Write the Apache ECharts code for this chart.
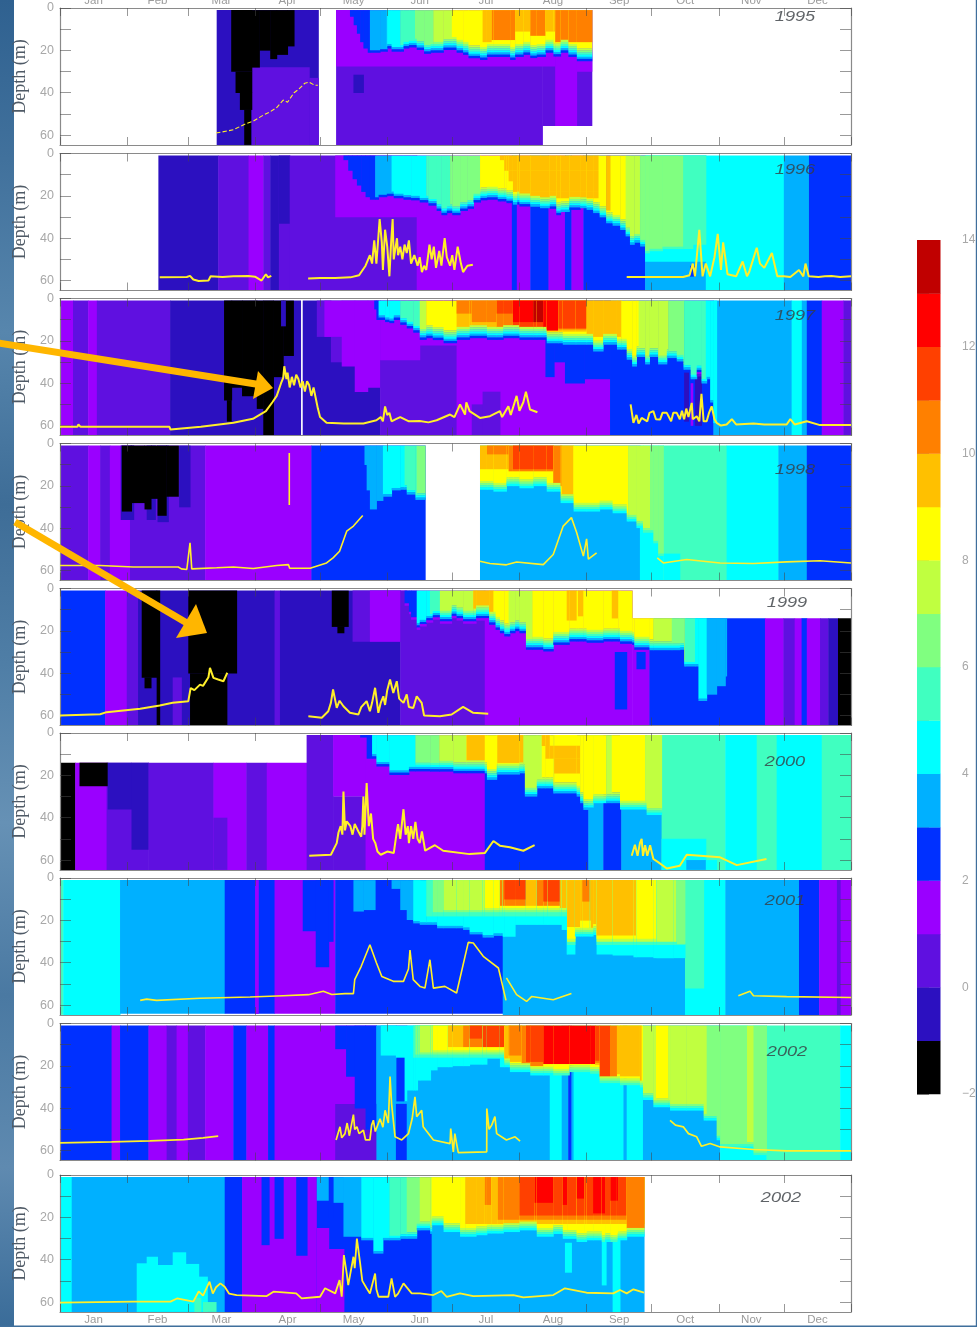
<!DOCTYPE html>
<html><head><meta charset="utf-8">
<style>html,body{margin:0;padding:0;background:#fff}#c{width:977px;height:1327px;filter:blur(0.7px)}</style>
<script src="https://cdn.jsdelivr.net/npm/echarts@6/dist/echarts.min.js"></script>
</head><body><div id="c"></div>
<script>
// cell = [startDay, endDay, topDepth, bottomDepth, temperatureClass]
const months=['Jan','Feb','Mar','Apr','May','Jun','Jul','Aug','Sep','Oct','Nov','Dec'];
const monthStarts=[0,31,59,90,120,151,181,212,243,273,304,334,365];
const monthMids=[15.5,45,74.5,105,135.5,166,196.5,227.5,258,288.5,319,349.5];
const depthTicks=[0,10,20,30,40,50,60];
const depthLabels=[0,20,40,60];
const colourLevels=[-2,-1,0,1,2,3,4,5,6,7,8,9,10,11,12,13];
const colours=['#000000','#2c10c0','#5f10e0','#9a00ff','#0030ff','#00b0ff','#00ffff','#40ffc0','#80ff80','#c0ff40','#ffff00','#ffc000','#ff8000','#ff4000','#ff0000','#c00000'];
const years=['1995','1996','1997','1998','1999','2000','2001','2002','2002'];

const deep1995=[[72.3,119.2,1,64.5,-1],[88.5,115,28,64.5,0],[115,119.2,33,64.5,0],[79,88.5,1,30,-2],[81,88.5,30,40,-2],[83,88.5,40,48,-2],[85,88,48,64.5,-2],[88.5,92,1,28,-2],[92,97,1,20,-2],[97,100,1,24,-2],[100,105,1,22,-2],[105,108,1,18,-2],[127.4,222.6,1,64.5,0],[222.6,245.4,1,55.6,0],[127.4,228.5,1,27.5,1],[228.5,238.4,1,55.6,1],[238.4,245.4,1,30,1],[135.4,140,31.5,40,-1]];
const upper1995=[[133.8,143,1,64,2],[143,150.8,1,64,3],[150.8,157,1,64,4],[157,163.8,1,64,5],[163.8,172.3,1,64,6],[172.3,180.8,1,64,7],[180.8,245.4,1,64,8],[195,199.2,1,16,9],[199.2,210,1,15,10],[210,217,1,11,9],[217,224,1,13,10],[224,228.5,1,11,9],[228.5,245.4,1,16,10]];
const thermo1995=[[133.8,4],[135.5,8],[137,12],[138.5,16],[140,19],[142,21],[143,21],[147.7,20.5],[151,19],[153,20.5],[158.5,19],[161,18.5],[164.6,19.7],[168,21.5],[171,21],[176.9,19.7],[183,21],[186,22],[188.5,23.6],[193.8,24.4],[197,23],[200,23],[207.7,24.4],[210,23],[213.8,22],[217,23.5],[220,23],[224,21],[227.7,22.8],[231,21],[234.6,23],[238.5,25],[245.4,25]];
const line1995=[[72,59],[75,58.5],[80,57.5],[85,55],[89,53.5],[94,50.5],[97,49],[100,47],[103,43.5],[105,44.5],[108,40],[110,38.5],[113,35.5],[115,35],[117.5,36.5],[119,36.5]];

const deep1996=[[45.4,73,1,64.5,-1],[73,87,1,64.5,0],[87,93.8,1,64.5,1],[93.8,97,1,64.5,0],[97,101,1,64.5,-1],[101,106,1,64.5,0],[101,106,1,33,-1],[106,164.6,1,64.5,0],[127,164.6,1,30,1],[164.6,208.5,1,64.5,1],[208.5,210.8,1,64.5,2],[210.8,217,1,64.5,1],[217,225.4,1,64.5,2],[225.4,233,1,64.5,1],[233,236,1,64.5,2],[236,241.5,1,64.5,1],[241.5,270,1,64.5,2],[270,298,1,64.5,3],[270,298,1,51,4],[290.7,293,53,58,2],[298,334,1,64.5,4],[334,345.6,1,64.5,3],[345.6,365,1,64.5,2]];
const upper1996=[[130.8,145.4,1,64,2],[145.4,153,1,64,3],[153,169,1,64,4],[169,180,1,64,5],[180,193.8,1,64,6],[193.8,248.5,1,64,8],[203,248.5,1,3,9],[205,248.5,3,8,9],[207,248.5,8,13,9],[209,248.5,13,18,9],[211,248.5,18,21,9],[248.5,252,1,64,8],[252,254,1,64,9],[254,261,1,64,8],[261,267.6,1,64,7],[267.6,287.6,1,64,6],[287.6,298,1,64,5]];
const thermo1996=[[130.8,3],[133,8],[135,12],[137,15],[139,18],[141,20.5],[143,21.7],[147,20.5],[150.8,20],[154,21],[158.5,21.7],[162,22],[166,23],[170,24.5],[173.8,27],[176,29],[178.5,28],[181,29],[184.6,27],[188,26],[190.8,23],[194,22],[197,21.7],[202,22.5],[206,23.3],[209,24],[212,24.9],[217,25],[221.5,25.7],[226,26],[229,29],[231,27.5],[235,26.5],[240,25.7],[243,26.5],[246,28],[249,30],[252,32.8],[255,34],[258.5,36],[261,39],[263,43],[265,42],[267.7,43.8],[270,47],[272,46],[278,45],[285,45],[292,43],[298,43]];
const line1996=[[46,58.5],[58.5,58.3],[60,57.8],[61.5,59.5],[64,60.2],[68.5,60],[69.5,58],[75,58.3],[80,58],[87,57.8],[90,58.2],[93,60],[95,57],[96,58.5],[97.5,57.8],[97.6,null],[114.5,59],[120,58.8],[127,58.8],[134,58.5],[138,57.5],[141,53],[143,48],[144,52],[145,41],[146,52],[147,38],[147.5,31],[148.5,42],[149,55],[150,36],[151,44],[152,58],[152.8,42],[153.5,31],[154,50],[155.5,40],[156,48],[157,44],[158,50],[159,43],[160,47],[161,41],[162,52],[163.5,48],[165,53],[166,49],[167,56],[168,53],[169,55],[170.5,43],[171.5,50],[172.5,44],[173.5,54],[175,46],[176,53],[177.5,40],[178.5,49],[180,53],[181,48],[182,55],[183.5,44],[185,52],[186,56],[188,53],[190.5,52.5],[190.6,null],[261.5,58.3],[287.5,58.3],[290.5,57.5],[292,52],[293,58],[295,36],[296.5,58],[298,52],[300,58],[302,49],[303.5,38],[305,55],[306,42],[307.5,53],[308,57],[312,58],[315,51],[317,58],[318,56],[321.5,44.5],[323,52],[325,54],[328.5,47],[331,58],[334,58],[337,58.3],[341,55],[343,58],[344,52],[345.5,58],[350,58.3],[353,58],[356,57.8],[360,58.3],[365,58]];

const deep1997=[[0,6,1,64.5,1],[6,13,1,64.5,0],[13,17,1,64.5,1],[17,50.8,1,64.5,0],[50.8,111,1,64.5,-1],[75.7,79.2,1,48,-2],[77,79,48,58,-2],[79.2,84,1,42,-2],[84,90.8,1,46,-2],[90.8,93.8,1,52,-2],[93.8,98.5,1,64.5,-2],[98.5,103,1,37,-2],[103,107.7,1,27,-2],[102,104,1,13,-1],[112,147.7,1,64.5,-1],[118.5,125,1,18,0],[125,130,18,30,0],[122,130,1,18,1],[130,136,1,32,1],[136,142,1,44,1],[142,148,1,42,1],[147.7,183,1,64.5,0],[147.7,166,1,29,1],[166,183,1,22,1],[183,253.8,1,64.5,1],[190,198,50,64.5,0],[195,203,44,64.5,0],[224,228,1,37,2],[228,233,1,30,2],[233,242,1,40,2],[242,253.8,1,38,2],[253.8,301.5,1,64.5,2],[288,290,35,58,-1],[291,292,40,60,1],[293,296,35,60,-1],[301.5,337.6,1,64.5,3],[337.6,342.3,1,64.5,4],[342.3,344.6,1,64.5,3],[344.6,351.5,1,64.5,2],[351.5,361.5,1,64.5,1],[361.5,365,1,64.5,0]];
const upper1997=[[143.8,147,1,64,2],[147,157,1,64,4],[157,166,1,64,5],[166,169,1,64,7],[169,243,1,64,8],[183,243,1,15.5,9],[183,190,1,7,10],[190,201.5,1,11,10],[201.5,243,1,14.5,10],[201.5,209,1,7,11],[209,243,1,14,11],[209,218.4,1,11,12],[218.4,223,1,11,13],[223,230,1,15,12],[243,259,1,64,8],[243,259,1,18,9],[259,267,1,64,8],[267,280.7,1,64,7],[280.7,288,1,64,6],[288,298,1,64,5],[298,303,1,64,4]];
const thermo1997=[[143.8,1],[145,5],[146,10],[148,10],[150,11],[152,11.5],[154,10],[157,12.3],[160,14],[163,16],[166,19.4],[169,18.6],[172,19.5],[177,21],[183,19.4],[189,18.6],[197,19.4],[204.5,18.6],[212,19.4],[220,19.4],[224.6,21],[232,21.7],[238,21.7],[246,24.9],[250.6,21.7],[257,24],[261.5,28.8],[264,32],[266,27.5],[270,31],[272,27.5],[276,31],[280,28],[284.6,29.6],[287.7,33.5],[291,38],[293.8,36.7],[296,40],[298.4,38],[300,49],[301.5,58.7],[303,58.7]];
const line1997=[[0,60.6],[8,60.6],[8.5,59.5],[9.5,60.6],[50.5,60.6],[51,61.9],[65,60.6],[80,58.7],[89,56.8],[95,53.2],[98,49],[100,46],[102,40],[103,37.5],[103.5,32],[104.5,38],[105,35],[106,42],[107,37],[108,41],[109,36],[110,38],[111,42],[112,39],[113,44],[114,39],[115,41],[116,46],[117,42],[118,47],[119,52],[120,56],[123,58.7],[131,59],[140,59],[146,57.5],[148,56],[149,58],[150,51],[151,55],[152,54],[153,58],[155,57],[157,56],[161,58],[166,57.8],[170,58.5],[173.8,57.5],[180,54.8],[182,56],[184.6,50],[186.9,54.8],[187.5,49],[189,53.2],[193.8,56.4],[198.4,55.6],[203,53.2],[204,56],[206.9,50.9],[208,55],[210.7,46],[212,53],[213.8,49],[215,44],[216.9,52.4],[220.3,53.7],[220.4,null],[263.3,50],[264.6,58.7],[266,55],[267,59],[268.4,56.4],[271,58],[272,54],[273.8,53.2],[275,57],[276.9,57.2],[278,54],[280,54],[282,58],[283,54],[284.6,54],[286,57],[287,53],[288,57],[289,52],[290,56],[291.5,49.3],[292,57],[293.8,55.6],[295,58],[296,45],[297,58],[298.4,58],[299.5,54],[300.7,50.9],[302,57],[303,58.7],[305,60],[307.6,59.5],[310,57],[312,59.5],[320,59],[325,59.5],[335.3,59.5],[337,57],[339,59.5],[344.6,58],[350.7,59.8],[365,59.8]];

const deep1998=[[0,13,1,64.5,0],[13,18.5,1,64.5,1],[18.5,23,1,64.5,0],[23,32.3,1,64.5,1],[32.3,67,1,64.5,0],[67,116,1,64.5,1],[116,168.5,1,64.5,2],[28,34,1,36,-1],[40,44,1,36,-1],[45,50,1,37,-1],[55,60,1,30,-1],[28.5,33,1,32,-2],[33,39,1,28,-2],[39,42,1,31,-2],[42,45,1,26,-2],[45,49,1,34,-2],[49,54.6,1,25,-2],[193.8,267.6,1,64.5,3],[267.6,278.4,1,64.5,4],[278.4,307.6,1,64.5,5],[278.4,286,52,64.5,4],[307.6,331.5,1,64.5,4],[331.5,344.6,1,64.5,3],[344.6,365,1,64.5,2]];
const upper1998=[[139.2,149,1,64,3],[149,159,1,64,4],[159,164.6,1,64,5],[164.6,168.5,1,64,6],[193.8,262.2,1,64,8],[193.8,207,1,12,9],[197,207,1,5,10],[207,227.6,1,13,10],[209,227.6,1,12,11],[227.6,231.5,1,20,10],[231.5,236.9,1,25,9],[262.2,272.3,1,64,7],[272.3,278.4,1,64,6]];
const thermo1998=[[139.2,1],[140.5,10],[141.5,22],[143,31],[146,27],[149,25],[153,22],[157,21.7],[160,24],[164,26.5],[168.5,26.5],[193.8,21.7],[200,22.6],[206,20],[212,21],[218.4,20],[224.6,22.6],[231,28],[237,32],[243,32],[249,31],[255,32.8],[261.5,36.7],[266,39.8],[269,42],[273.8,47],[276,53],[278.4,54.8]];
const line1998=[[0,57.6],[18.5,57.6],[33.8,58.3],[54.6,58.3],[56,59.2],[58.5,59.5],[60,46.9],[60.8,59.2],[72.3,58.7],[80,58.3],[89.2,59],[100,57.6],[105.4,57.2],[106,58.9],[115.4,58.9],[123,56.4],[126,54],[129,50.9],[132.3,41.4],[135.4,39],[139.7,34],[139.8,null],[105.8,4.5],[105.8,29],[105.81,null],[193.8,55.6],[198.4,56.7],[206,57.3],[210.7,56],[223,57.2],[227.6,52.4],[232.2,39],[236,35],[238.4,42],[241.5,53.2],[243,45],[243.8,54.6],[247.6,51.6],[247.7,null],[275.6,54],[278.4,56.4],[289.2,54.8],[304.6,56.4],[320,56.7],[335.3,55.9],[350.7,55.4],[365,56.4]];

const deep1999=[[0,20.8,1,64.5,2],[20.8,30.8,1,64.5,1],[30.8,36,1,64.5,0],[36,99,1,64.5,-1],[52,56,42,64.5,0],[99,101.5,1,64.5,0],[101.5,157,1,64.5,-1],[37.7,44.6,1,42,-2],[39,42,42,47,-2],[44.6,46,1,64.5,-2],[59.2,81.5,1,40,-2],[60,77,40,64.5,-2],[125.4,133,1,18,-2],[128,131,18,21,-2],[135,157,1,25,0],[143,160,1,25,1],[157,196,1,64.5,0],[196,264,1,64.5,1],[264,272,14,64.5,1],[256,261.5,30,57,2],[266,270,30,38,2],[272,325.3,14,64.5,2],[325.3,333.8,14,64.5,1],[333.8,339,14,64.5,0],[339,342.2,14,64.5,1],[342.2,344.6,14,64.5,2],[344.6,350.7,14,64.5,1],[350.7,354.5,14,64.5,0],[354.5,359,14,64.5,-1],[359,365,14,64.5,-2]];
const upper1999=[[159,164.6,1,64,2],[164.6,170.7,1,64,4],[170.7,175.3,1,64,5],[175.3,190.7,1,64,7],[190.7,207,1,64,8],[190.7,200,1,11,9],[207,218,1,64,7],[218,264,1,64,8],[233.8,238.4,1,15,9],[239,241.5,1,13,9],[254.6,257.6,1,14,9],[264,273.8,14,64,8],[273.8,282.3,14,64,7],[282.3,288.4,14,64,6],[288.4,293,14,64,5],[293,298.4,14,64,4],[298.4,307.6,14,64,3]];
const thermo1999=[[159,8],[161,12],[162,14.6],[164.6,19.4],[166,17.8],[169,16],[172,14.6],[175.3,16.5],[180.7,13.9],[183,15],[186,16.5],[192,15],[198,17],[201,19.4],[203,21],[205,22.5],[207.6,21],[210,20],[212,21],[215,28.8],[223,29.6],[227.6,26.5],[235,24.9],[243,25.5],[250.7,24.9],[258.4,26],[264,26.5],[265,28.8],[272,29],[286,28.8],[288,36.7],[293,36.7],[294.6,53],[298.4,50],[303,46],[307,41.4],[307.6,41.4]];
const line1999=[[0,60],[18.5,59.4],[21.5,58.4],[37,56.8],[46,55.3],[52,54],[59.2,53.2],[60.3,47],[62,48],[64.6,45.4],[66,46],[68.5,41.9],[69.2,37.5],[70.8,42.2],[73,43],[75.4,43.8],[77.2,39.8],[77.3,null],[114.6,60.3],[120.8,61],[123.8,58],[125,54],[126,47.7],[127.7,56.4],[129,53],[130.8,55.6],[133.8,58.7],[137.7,59.5],[139,56],[141.5,53.2],[143,58],[144,54],[145.4,46.9],[146.9,58.7],[148,54],[149.2,50.9],[150,55],[151,48],[152.3,43],[153.8,49.3],[155.4,43.8],[156.5,52],[158.5,54],[160,50],[161,56],[163,56.4],[164.6,50.9],[166.9,54],[168,60],[175.3,60.3],[180.7,59.5],[186,55.9],[190.7,58.7],[197.6,59.2]];

const deep2000=[[0,7,14,64.5,-2],[7,21.5,14,64.5,1],[21.5,40.8,14,64.5,0],[9,22,14,25,-2],[22,33,14,36,-1],[33,40.8,14,55,-1],[40.8,70.8,14,64.5,0],[70.8,86,14,64.5,1],[70.8,77,40,64.5,0],[86,95.4,14,64.5,0],[95.4,113.8,14,64.5,1],[113.8,126,1,64.5,0],[126,141,1,30,1],[126,141,30,64.5,0],[141,196,1,64.5,1],[196,243.8,1,64.5,2],[243.8,250.7,1,64.5,3],[250.7,259,1,64.5,2],[259,277.6,1,64.5,3],[277.6,307,1,64.5,5],[277.6,298,50,64.5,4],[289,298,60,64.5,3],[298,303,60,64.5,4],[307,321.5,1,64.5,4],[321.5,330.7,1,64.5,5],[330.7,351.5,1,64.5,4],[351.5,365,1,64.5,5]];
const upper2000=[[138.5,144,1,64,2],[144,164,1,64,4],[164,175,1,64,6],[175,187.6,1,64,7],[187.6,213.8,1,64,8],[187.6,196,1,13,9],[201.8,213.8,1,14,9],[213.8,222.3,1,64,7],[222.3,252,1,64,8],[222.3,226,1,6,9],[224,240,6,12,9],[228,240,12,19,9],[252,254.6,1,64,7],[254.6,270,1,64,8],[270,277.6,1,64,7]];
const thermo2000=[[138.5,2],[141.5,12],[146,15.7],[152,19.7],[161,18],[170.8,18.1],[181.5,18.9],[196,18.9],[197,22],[201.5,19.5],[212,18.9],[214.5,29.9],[220,26],[227.6,28.4],[238.4,29.9],[240,33],[241.5,36.2],[246,33],[258.4,36],[270.7,38.6],[277.6,39.4]];
const line2000=[[115,58],[125,57.5],[127.7,52],[128.5,47],[129.5,44],[130.3,48],[130.8,27.6],[131.5,46],[132.3,41.7],[134,44],[135,48],[136,43],[137.7,46.5],[139,49],[139.5,44],[140,30],[140.5,48],[141.5,23.6],[142.5,44],[143.5,38],[144.5,50],[145.5,52],[146.5,56],[148,57.5],[151,56],[154,56.7],[155.5,46],[156,43],[157,50],[158.5,36],[159.5,48],[160.5,44],[161,52],[162,44],[163,50],[164,42],[165,50],[166,52],[167,46.5],[168.5,55.6],[173,53],[176.8,55.6],[189,57.2],[196,56.7],[200,51],[203,53.2],[207.6,54],[213.8,55.6],[219,53],[219.1,null],[263.8,58],[265.3,52.8],[266.5,58],[267.6,52],[268.4,50],[269,58],[270,53],[271,58],[272.3,53],[273.8,59.5],[276,61],[280,64],[286,62.7],[289.2,57.5],[304.6,58.7],[312.3,62.4],[326,59.5]];

const deep2001=[[0,1.5,1,64.5,5],[1.5,27.7,1,64.5,4],[27.7,76,1,64,3],[76,99,1,64,2],[90,91.5,1,64,1],[99,127,1,64,1],[112,118,1,25,2],[118,124,1,42,2],[124,126,1,30,2],[127,204.3,1,64,2],[204.3,288.4,1,64.5,3],[288.4,307,1,64.5,4],[288.4,297,1,52,5],[307,341,1,64.5,3],[341,350.3,1,64.5,2],[350.3,365,1,64.5,1],[358.5,360,1,64.5,0]];
const upper2001=[[135.4,145.4,1,64,3],[153,166,1,64,3],[163,166,1,64,4],[166,234,1,64,4],[169,234,1,18,5],[172,234,1,16,6],[177,234,1,15,7],[196,234,1,14,8],[203,215,1,13,10],[205,215,1,10,11],[215,220,1,13,9],[220,230.7,1,13,10],[223,230.7,1,11,11],[230.7,234,1,14,9],[234,288.4,1,64,4],[234,288.4,1,31.5,5],[234,284.6,1,30,7],[234,275.3,1,28.5,8],[234,240,1,23,9],[240,245,1,20,9],[245,266,1,27,9],[241,244.5,1,11,10],[284.6,288.4,1,31,6]];
const thermo2001=[[135.4,15.7],[140,15],[145.4,15],[153,5],[157,15],[160,19.7],[163,21.3],[166,22],[174,23.6],[183,23.6],[186,24.4],[189,26.5],[195,28],[200,27.2],[204.3,27.6],[210,22],[225,22],[231.5,24.4],[233.8,36],[237.6,27.5],[246,26.8],[247.6,36],[255,36.5],[264.6,37.3],[273.8,37.7],[283,37.7],[288.4,37.7]];
const line2001=[[37,57.8],[40,57.2],[44.6,57.8],[64.6,56.8],[87.7,56.2],[103,55.6],[114.6,55.1],[121.5,53.5],[125.4,55],[131.5,54.6],[135.4,54.6],[136,48],[139,41.7],[143,31.5],[146,40],[148.5,46.5],[153.8,48.8],[158.5,48.8],[160.8,43],[161.5,34],[163,48],[166.1,51.2],[168.4,52],[170.7,38.6],[172.3,52],[177.6,51.2],[183,54.3],[188.4,30.4],[190.7,30.7],[195.3,37],[202.3,42.5],[205.8,57.8],[205.9,null],[206,47.2],[210.7,55.1],[215.3,58.3],[217.6,56],[227.6,57.5],[236,54.6],[236.1,null],[313,55.6],[318.4,53.5],[320,55.6],[335.3,56],[365,56.4]];

const deep2002a=[[0,23.8,1,64.5,2],[23.8,27.7,1,64.5,1],[27.7,40.8,1,64.5,2],[40.8,49.2,1,64.5,1],[49.2,53.8,1,64.5,0],[53.8,59,1,64.5,1],[59,67,1,64.5,0],[67,80,1,64.5,1],[80,86,1,64.5,2],[86,96,1,64.5,1],[96,99,1,64.5,2],[99,146,1,64.5,1],[127,146,38,64.5,0],[127,132,1,12,2],[132,136,1,25,2],[136,141,1,40,2],[141,146,1,50,2],[146,155,1,64.5,3],[155,160,1,64.5,2],[160,226,1,64.5,3],[226,231.5,1,64.5,4],[231.5,234.5,1,64.5,3],[234.5,236,1,64.5,2],[236,237,1,64.5,3],[237,260,1,64.5,4],[260,261.5,1,64.5,3],[261.5,269,1,64.5,4],[269,304.6,1,64.5,3],[304.6,326,1,64.5,4],[326,360,1,64.5,5],[360,365,1,64.5,4]];
const upper2002a=[[146,155,1,64,3],[148,155,1,15,4],[155,159,1,16,4],[159,205,1,64,4],[163,205,1,16,5],[164,205,1,14.5,6],[166,205,1,13.5,7],[172,205,1,12.5,8],[179,186,1,11,9],[186,195,1,11,10],[189,195,1,7,11],[195,205,1,11,11],[205,269,1,64,8],[205,213,1,18,9],[207,213,1,15,10],[213,223,1,20,10],[215,223,1,18,11],[223,246.9,1,19,12],[246.9,253.8,1,25,11],[253.8,257,1,27,10],[257,268.4,1,29,9],[269,275,1,64,7],[275,280.7,1,64,8],[280.7,298.4,1,64,7],[298.4,317,1,64,6],[317,320,1,64,7],[320,326,1,64,6]];
const thermo2002a=[[146,37.8],[155,37.8],[160,31.5],[165,26.8],[171,22],[174,20.5],[181,20],[189,19.3],[197,16.5],[203,20.5],[207.6,22.8],[217,24.4],[227.6,24.4],[235,22.8],[244.6,23.6],[249,28],[258.4,29],[267.6,30],[269,36],[273.8,39.4],[281.5,41],[289,41],[297,45.7],[303,55],[304.6,58],[320,62],[326,62]];
const line2002a=[[0,56.4],[23.8,55.9],[41.5,55.4],[57,54.8],[66,54],[73,53.2],[73.1,null],[127.4,55],[129.2,48.8],[130,54],[131.5,52],[132.5,47],[133.5,53],[135.4,43],[136,50],[137,48.8],[138,52],[140,50.4],[141,55],[143,55],[143.8,48],[144.6,45.7],[145.5,51],[147.7,45],[149,49],[150,41],[151.5,47],[152.3,25],[153,37.8],[154.6,53.5],[157.7,55],[160.8,52],[162.5,45],[163.8,34.6],[164.6,44],[166.9,41],[167.6,48.8],[172.3,55],[180,56.7],[180.3,49.6],[181.5,60.6],[182.2,52],[183,56.7],[183.8,61],[196.9,60.6],[196.95,40.2],[198,50],[199.2,48],[200.7,44],[201.5,52],[206,55],[210,53.5],[212.3,55.6],[212.4,null],[281.5,45.7],[284,48],[287.6,48.8],[290,52],[293.8,53.5],[296,58],[300,56.7],[304.6,58.3],[320,59.5],[335.3,60.2],[365,60.2]];

const deep2002b=[[0,5.4,1,64.5,4],[5.4,76,1,64.5,3],[35.4,40,41.7,64.5,4],[40,45,38.6,64.5,4],[45,52,42.5,64.5,4],[52,58,36.5,64.5,4],[58,64,42,64.5,4],[64,68,48,64.5,4],[62,65,58,64.5,5],[66,72,60,64.5,5],[76,84,1,64.5,2],[84,118.5,1,64.5,1],[93,96.5,1,33,2],[99,103,1,30,2],[109,114,1,38,2],[118.5,171.5,1,64.5,2],[118.5,124,25,64.5,1],[124,131,35,64.5,1],[171.5,269.5,1,64.5,3],[255,258.4,1,64.5,4],[233,236,32,46,4],[250,252,30,52,4]];
const upper2002b=[[118.5,124,1,12,3],[124,126,1,20,2],[126,139,1,64,3],[139,152,1,64,4],[152,160,1,64,5],[160,166,1,64,6],[166,171.5,1,64,7],[171.5,269.5,1,64,8],[187,269.5,1,23,9],[196,199,1,14,10],[202,261.5,1,21,10],[212,261.5,1,19,11],[219,227.6,1,13,12],[232,234,1,14,12],[238.5,242,1,11,12],[246,251.5,1,18,12],[254,257.5,1,12,12],[261.5,269.5,1,25,10]];
const thermo2002b=[[126,13],[130.8,29],[139,30.7],[144.6,37],[149,30.7],[157,30],[164.6,26],[170.8,27.7],[171.5,23.6],[177,26.8],[184.6,29],[192,28.3],[197,27.5],[204.6,26.8],[212,26],[220,29],[227.6,27.7],[232,30],[238.4,31.5],[243,30.7],[250,31.5],[257,30.7],[261.5,29],[269.5,30.7]];
const line2002b=[[0,60.3],[34,59.8],[51,59.8],[54,58.3],[61.5,59.8],[64,55],[66,57],[69,50.4],[70.5,56],[72,53],[74,51.2],[76,52.8],[78,56],[81.5,56.7],[95.4,57.2],[98.5,55.1],[109,55.9],[111.5,58.3],[120,57.5],[122.3,53.5],[127,55.9],[129,49.6],[130,57.5],[131,37.8],[132.3,46.5],[133,52],[135.4,38.6],[136,44],[137,30],[138.5,41.7],[139.5,50],[141.5,53.5],[143,56],[145.4,46.5],[146,54],[147,57.5],[151.5,57.5],[153,48.8],[154.6,57.5],[156,56],[158.5,51.2],[162.3,55.9],[166.1,55.9],[172.3,56.7],[176,54.8],[178.4,57.5],[184.6,55.9],[190.7,57.2],[209.2,56.7],[213.8,57.8],[227.6,56.7],[233,53.5],[243,55.6],[255.3,55.9],[258.4,54.3],[261.5,55.9],[264.6,54],[269.5,55.6]];

const panelData=[[deep1995,upper1995,thermo1995,line1995],[deep1996,upper1996,thermo1996,line1996],[deep1997,upper1997,thermo1997,line1997],[deep1998,upper1998,thermo1998,line1998],[deep1999,upper1999,thermo1999,line1999],[deep2000,upper2000,thermo2000,line2000],[deep2001,upper2001,thermo2001,line2001],[deep2002a,upper2002a,thermo2002a,line2002a],[deep2002b,upper2002b,thermo2002b,line2002b]];

// layout
const panelTops=[8,153.5,298.5,443.5,588.5,733,878,1023.5,1175];
const lineWidths=[1.1,2,2,1.6,2,2,1.6,1.7,1.8];
const yearPos=[[795,17],[795,170],[795,316],[795,470],[787,603],[785,762],[785,901],[787,1052],[781,1198]];

function classAt(deep,day,depth){let r=null;for(const c of deep){if(c[0]<=day&&c[1]>day&&c[2]<=depth&&c[3]>depth)r=c[4];}return r;}
function buildCells(deep,upper,thermo){
  const cells=deep.map(c=>c.slice());
  const lo=thermo[0][0],hi=thermo[thermo.length-1][0];
  const set=new Set(thermo.map(t=>t[0]));
  upper.forEach(u=>{[u[0],u[1]].forEach(d=>{if(d>lo&&d<hi)set.add(d);});});
  const edges=[...set].sort((a,b)=>a-b);
  for(let i=0;i<edges.length-1;i++){
    const a=edges[i],b=edges[i+1],mid=(a+b)/2;
    let D=thermo[0][1];for(const t of thermo){if(t[0]<=mid)D=t[1];}
    const cov=upper.filter(u=>u[0]<=mid&&u[1]>mid);
    if(!cov.length)continue;
    let base=cov[cov.length-1];for(const u of cov){if(u[3]>=D)base=u;}
    const low=classAt(deep,mid,D+0.5);
    const n=low===null?0:Math.max(base[4]-low-1,0);
    for(const u of cov){const bot=Math.min(u[3],D-n);if(bot>u[2])cells.push([a,b,u[2],bot,u[4]]);}
    for(let k=1;k<=n;k++)cells.push([a,b,D-n+k-1,D-n+k,base[4]-k]);
  }
  upper.forEach(u=>{if(u[0]<lo)cells.push([u[0],Math.min(u[1],lo),u[2],u[3],u[4]]);if(u[1]>hi)cells.push([Math.max(u[0],hi),u[1],u[2],u[3],u[4]]);});
  return cells;
}
function renderCell(params,api){
  const s=api.coord([api.value(0),api.value(2)]),e=api.coord([api.value(1),api.value(3)]);
  return {type:'rect',shape:{x:s[0],y:Math.min(s[1],e[1]),width:e[0]-s[0]+0.5,height:Math.abs(e[1]-s[1])+0.3},style:{fill:colours[api.value(4)+2]}};
}
const axisGrey='#8a8a8a',tickCol='rgba(70,70,70,.55)';
const grid=[],xAxis=[],yAxis=[],series=[];
panelData.forEach((p,i)=>{
  grid.push({left:60,width:791,top:panelTops[i],height:137,show:false,outerBoundsMode:'none',containLabel:false});
  const xBase={type:'value',min:0,max:365,gridIndex:i,z:3,splitLine:{show:false},
    axisLine:{show:true,onZero:false,lineStyle:{color:axisGrey,width:1.2}},
    axisTick:{show:true,inside:true,length:8,customValues:monthStarts,lineStyle:{color:tickCol}}};
  const lab=(show,m)=>({show,customValues:monthMids,margin:m,color:'#9b9b9b',fontFamily:'Liberation Sans',fontSize:11.5,hideOverlap:false,
    formatter:v=>months[monthMids.indexOf(v)]||''});
  xAxis.push(Object.assign({},xBase,{position:'bottom',axisLabel:lab(i===8,2)}));
  xAxis.push(Object.assign({},xBase,{position:'top',axisLabel:lab(i===0,1)}));
  const yBase={type:'value',inverse:true,min:0,max:64.7,gridIndex:i,z:3,splitLine:{show:false},
    axisLine:{show:true,onZero:false,lineStyle:{color:axisGrey,width:1.2}},
    axisTick:{show:true,inside:true,length:11,customValues:depthTicks,lineStyle:{color:tickCol}}};
  yAxis.push(Object.assign({},yBase,{position:'left',name:'Depth (m)',nameLocation:'middle',nameGap:31,nameRotate:90,
    nameTextStyle:{fontFamily:'Liberation Serif',fontSize:18,color:'#4f5a66'},
    axisLabel:{show:true,customValues:depthLabels,margin:6,color:'#a8a8a8',fontFamily:'Liberation Sans',fontSize:12.5}}));
  yAxis.push(Object.assign({},yBase,{position:'right',axisLabel:{show:false}}));
  series.push({type:'custom',name:years[i]+' temperature',xAxisIndex:2*i,yAxisIndex:2*i,renderItem:renderCell,z:2,silent:true,animation:false,progressive:0,
    encode:{x:[0,1],y:[2,3]},data:buildCells(p[0],p[1],p[2])});
  series.push({type:'line',name:years[i]+' depth',xAxisIndex:2*i,yAxisIndex:2*i,data:p[3],showSymbol:false,silent:true,animation:false,z:5,connectNulls:false,
    lineStyle:{color:'#ffef2a',width:lineWidths[i],type:i===0?'dashed':'solid'}});
});
grid.push({left:917,width:23,top:240,height:854,show:false,outerBoundsMode:'none'});
xAxis.push({type:'value',min:0,max:1,gridIndex:9,show:false});
yAxis.push({type:'value',min:-2,max:14,interval:1,gridIndex:9,position:'right',splitLine:{show:false},
  axisLine:{show:false},axisTick:{show:true,length:12,lineStyle:{color:'#9a9a9a'}},
  axisLabel:{show:true,margin:22,color:'#a8a8a8',fontFamily:'Liberation Sans',fontSize:12,formatter:v=>v%2===0?(v<0?'\u2212'+(-v):String(v)):''}});
series.push({type:'custom',name:'colour scale',xAxisIndex:18,yAxisIndex:18,renderItem:renderCell,silent:true,animation:false,progressive:0,
  encode:{x:[0,1],y:[2,3]},data:colourLevels.map(l=>[0,1,l,l+1,l])});

const arrowCol='#ffb600';
const graphic=[
 {type:'rect',z:-1,shape:{x:0,y:0,width:14,height:1327},style:{fill:{type:'linear',x:0,y:0,x2:0,y2:1,colorStops:[{offset:0,color:'#2f6190'},{offset:.12,color:'#41719c'},{offset:.25,color:'#5786ad'},{offset:.38,color:'#3e6d97'},{offset:.5,color:'#4f7ea6'},{offset:.62,color:'#6691b5'},{offset:.75,color:'#4a79a2'},{offset:.88,color:'#5f8ab0'},{offset:1,color:'#3a6c99'}]}}},
 {type:'rect',z:-1,shape:{x:975.8,y:0,width:2,height:1327},style:{fill:'#3f6f9c'}},
 {type:'rect',z:-1,shape:{x:0,y:1325.6,width:977,height:2},style:{fill:'#3f6f9c'}},
 {type:'line',z:100,shape:{x1:-2,y1:343,x2:262,y2:385},style:{stroke:arrowCol,lineWidth:7}},
 {type:'polygon',z:100,shape:{points:[[273,388],[258,371],[253,399]]},style:{fill:arrowCol}},
 {type:'line',z:100,shape:{x1:15,y1:522,x2:192,y2:626},style:{stroke:arrowCol,lineWidth:7}},
 {type:'polygon',z:100,shape:{points:[[207,633],[196,604],[176,638]]},style:{fill:arrowCol}}
];
years.forEach((y,i)=>{graphic.push({type:'text',z:50,x:yearPos[i][0],y:yearPos[i][1],scaleX:1.3,style:{text:y,font:'italic 14px "Liberation Sans"',fill:'rgba(55,60,65,.8)',textAlign:'center',textVerticalAlign:'middle'}});});

echarts.init(document.getElementById('c')).setOption({animation:false,backgroundColor:'#fff',grid,xAxis,yAxis,series,graphic});
</script></body></html>
